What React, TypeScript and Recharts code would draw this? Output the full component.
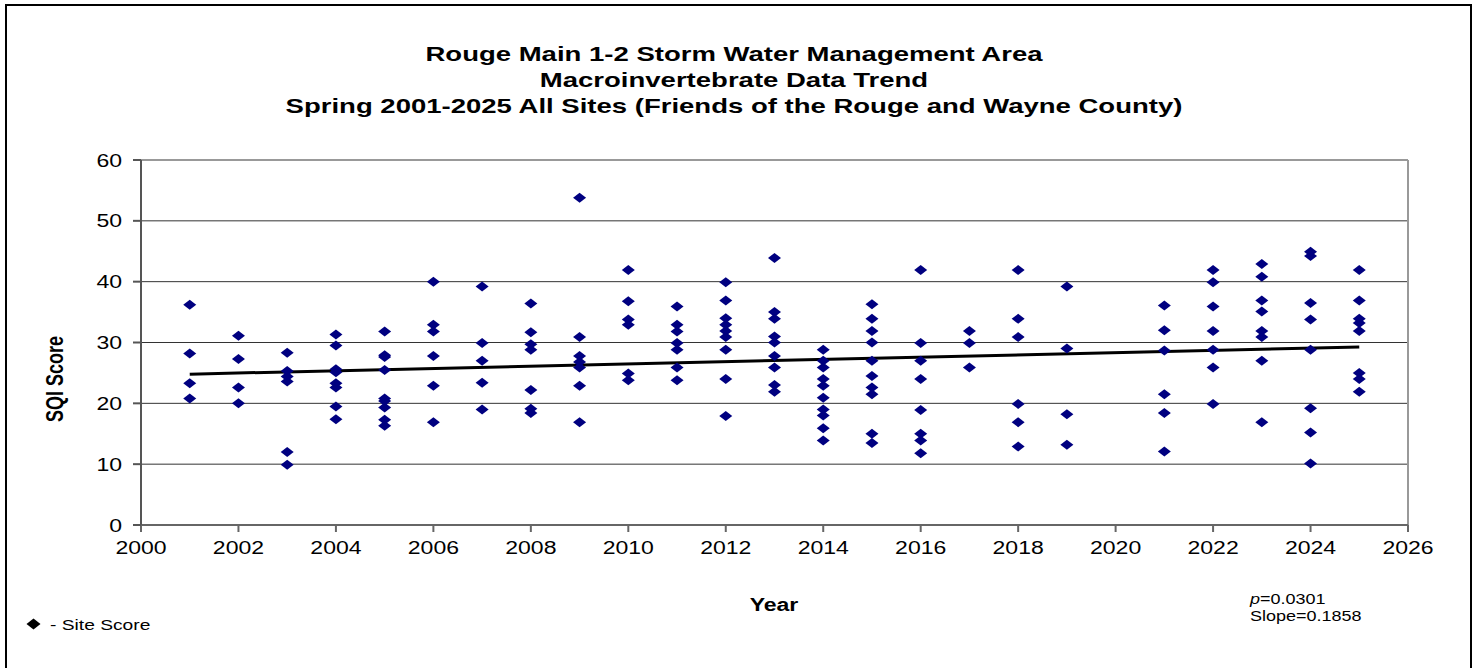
import { ScatterChart, Scatter, XAxis, YAxis, CartesianGrid, ReferenceLine } from 'recharts';

// Spring SQI site scores (no 2020 sampling)
const years = [
  2001, 2002, 2003, 2004, 2005, 2006, 2007, 2008, 2009, 2010, 2011, 2012,
  2013, 2014, 2015, 2016, 2017, 2018, 2019, 2021, 2022, 2023, 2024, 2025,
];

const scoresByYear = [
  [36.2, 28.2, 23.3, 20.8],
  [31.1, 27.3, 22.6, 20.0],
  [28.3, 25.3, 24.4, 23.6, 12.0, 9.9],
  [31.3, 29.5, 25.6, 25.1, 23.3, 22.6, 19.5, 17.4],
  [31.8, 27.9, 27.6, 25.5, 20.8, 20.4, 19.3, 17.3, 16.3],
  [40.0, 32.9, 31.8, 27.8, 22.9, 16.9],
  [39.2, 29.9, 27.0, 23.4, 19.0],
  [36.4, 31.7, 29.7, 28.8, 22.2, 19.1, 18.4],
  [53.8, 30.9, 27.8, 26.8, 25.9, 22.9, 16.9],
  [41.9, 36.8, 33.8, 32.9, 24.9, 23.8],
  [35.9, 32.9, 31.8, 29.9, 28.8, 25.9, 23.8],
  [39.9, 36.9, 34.0, 32.9, 31.9, 30.9, 28.8, 24.0, 17.9],
  [43.9, 35.0, 33.9, 31.0, 30.0, 27.8, 25.9, 23.0, 21.9],
  [28.8, 27.0, 25.9, 24.0, 22.9, 20.9, 19.0, 18.0, 15.9, 13.9],
  [36.3, 33.9, 31.9, 30.0, 27.0, 24.5, 22.6, 21.5, 15.0, 13.5],
  [41.9, 29.9, 27.0, 24.0, 18.9, 15.0, 13.9, 11.8],
  [31.9, 29.9, 25.9],
  [41.9, 33.9, 30.9, 19.9, 16.9, 12.9],
  [39.2, 29.0, 18.2, 13.2],
  [36.1, 32.0, 28.7, 21.5, 18.4, 12.1],
  [41.9, 39.9, 35.9, 31.9, 28.8, 25.9, 19.9],
  [42.9, 40.8, 36.9, 35.1, 31.9, 30.9, 27.0, 16.9],
  [44.9, 44.2, 36.5, 33.8, 28.8, 19.2, 15.2, 10.1],
  [41.9, 36.9, 33.9, 33.2, 31.9, 25.0, 24.0, 21.9],
];

// linear trend end points (slope 0.1858)
const trendYears = [2001, 2025];
const trendValues = [24.8, 29.26];

const xTicks = [2000, 2002, 2004, 2006, 2008, 2010, 2012, 2014, 2016, 2018, 2020, 2022, 2024, 2026];
const yTicks = [0, 10, 20, 30, 40, 50, 60];

const titleLines = [
  'Rouge Main 1-2 Storm Water Management Area',
  'Macroinvertebrate Data Trend',
  'Spring 2001-2025 All Sites (Friends of the Rouge and Wayne County)',
];

const FONT = '"Liberation Sans", Arial, sans-serif';
const STRETCH = 1.28;

const points = years.flatMap((year, i) => scoresByYear[i].map((sqi) => ({ year, sqi })));

const Diamond = (props: any) => {
  const { cx, cy } = props;
  if (cx == null || cy == null) return null;
  return (
    <polygon
      points={`${cx - 6.5},${cy} ${cx},${cy - 5} ${cx + 6.5},${cy} ${cx},${cy + 5}`}
      fill="#000080"
    />
  );
};

const XTick = (props: any) => {
  const { x, y, payload } = props;
  return (
    <g transform={`translate(${x},${y})`}>
      <text
        transform={`scale(${STRETCH},1)`}
        textAnchor="middle"
        dy={20}
        fontSize={18}
        fontFamily={FONT}
        fill="#000"
      >
        {payload.value}
      </text>
    </g>
  );
};

const YTick = (props: any) => {
  const { x, y, payload } = props;
  return (
    <g transform={`translate(${x},${y})`}>
      <text
        transform={`scale(${STRETCH},1)`}
        textAnchor="end"
        dy={6.5}
        fontSize={18}
        fontFamily={FONT}
        fill="#000"
      >
        {payload.value}
      </text>
    </g>
  );
};

const stretched = (origin: string, k = STRETCH) => ({
  transform: `scaleX(${k})`,
  transformOrigin: origin,
});

export default function App() {
  return (
    <div
      style={{
        position: 'absolute',
        left: 0,
        top: 0,
        width: 1477,
        height: 668,
        background: '#fff',
        fontFamily: FONT,
        overflow: 'hidden',
      }}
    >
      {/* outer frame, open at the bottom */}
      <div
        style={{
          position: 'absolute',
          left: 5,
          top: 4,
          width: 1463,
          height: 700,
          borderTop: '2px solid #000',
          borderLeft: '2px solid #000',
          borderRight: '2px solid #000',
        }}
      />

      <ScatterChart
        width={1477}
        height={668}
        margin={{ top: 160, right: 69, bottom: 113, left: 81 }}
      >
        <CartesianGrid vertical={false} stroke="#333" strokeWidth={1} />
        <XAxis
          type="number"
          dataKey="year"
          domain={[2000, 2026]}
          ticks={xTicks}
          interval={0}
          height={30}
          tickSize={7}
          stroke="#666"
          strokeWidth={2}
          tick={<XTick />}
          allowDataOverflow
        />
        <YAxis
          type="number"
          dataKey="sqi"
          domain={[0, 60]}
          ticks={yTicks}
          interval={0}
          width={60}
          tickSize={8}
          tickMargin={11}
          stroke="#555"
          strokeWidth={2}
          tick={<YTick />}
          allowDataOverflow
        />
        <ReferenceLine y={60} stroke="#999" strokeWidth={2} />
        <ReferenceLine x={2026} stroke="#999" strokeWidth={2} />
        <Scatter data={points} shape={<Diamond />} isAnimationActive={false} />
        <ReferenceLine
          segment={[
            { x: trendYears[0], y: trendValues[0] },
            { x: trendYears[1], y: trendValues[1] },
          ]}
          stroke="#000"
          strokeWidth={3}
        />
      </ScatterChart>

      {/* title */}
      {titleLines.map((line, i) => (
        <div
          key={line}
          style={{
            position: 'absolute',
            left: 0,
            width: 1468,
            top: 42 + i * 26,
            textAlign: 'center',
            fontSize: 21,
            fontWeight: 'bold',
            lineHeight: '24px',
            color: '#000',
            ...stretched('734px 50%', 1.31),
          }}
        >
          {line}
        </div>
      ))}

      {/* y axis title */}
      <div
        style={{
          position: 'absolute',
          left: 55 - 60,
          top: 379 - 12,
          width: 120,
          height: 24,
          lineHeight: '24px',
          textAlign: 'center',
          fontSize: 18,
          fontWeight: 'bold',
          transform: `rotate(-90deg) scaleY(${STRETCH})`,
          transformOrigin: '50% 50%',
        }}
      >
        SQI Score
      </div>

      {/* x axis title */}
      <div
        style={{
          position: 'absolute',
          left: 674,
          width: 200,
          top: 594,
          lineHeight: '22px',
          textAlign: 'center',
          fontSize: 18,
          fontWeight: 'bold',
          ...stretched('50% 50%'),
        }}
      >
        Year
      </div>

      {/* legend */}
      <svg style={{ position: 'absolute', left: 26, top: 618 }} width={16} height={13}>
        <polygon points="0.5,6 7.5,0.5 14.5,6 7.5,11.5" fill="#000" />
      </svg>
      <div
        style={{
          position: 'absolute',
          left: 50,
          top: 615,
          lineHeight: '20px',
          fontSize: 15,
          whiteSpace: 'nowrap',
          ...stretched('0 50%'),
        }}
      >
        - Site Score
      </div>

      {/* regression statistics */}
      <div
        style={{
          position: 'absolute',
          left: 1250,
          top: 591,
          lineHeight: '17px',
          fontSize: 14.5,
          whiteSpace: 'nowrap',
          ...stretched('0 50%', 1.24),
        }}
      >
        <div>
          <i>p</i>=0.0301
        </div>
        <div>Slope=0.1858</div>
      </div>
    </div>
  );
}
